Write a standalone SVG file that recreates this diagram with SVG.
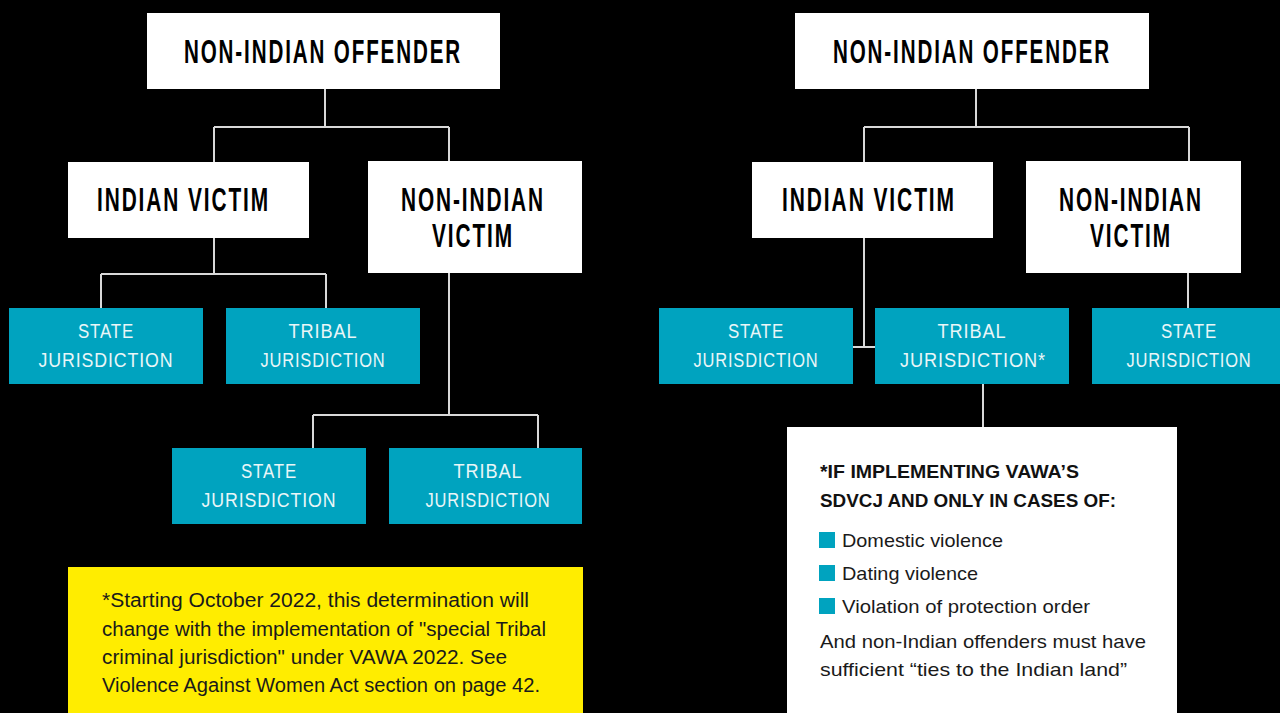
<svg xmlns="http://www.w3.org/2000/svg" width="1280" height="713" viewBox="0 0 1280 713">
<style>
.hdr{fill:#fff}
.hd{font-family:"Liberation Sans",Arial,sans-serif;font-weight:bold;font-size:33px;letter-spacing:3px;fill:#000;text-anchor:middle}
.jb{fill:#00A3BF}
.jt{font-family:"Liberation Sans",Arial,sans-serif;font-size:20px;letter-spacing:1px;fill:#EAF6F8;text-anchor:middle}
.conn{stroke:#D9D9D9;stroke-width:2;fill:none}
.yt{font-family:"Liberation Sans",Arial,sans-serif;font-size:20px;fill:#1A1A1A}
.nt{font-family:"Liberation Sans",Arial,sans-serif;font-size:19px;fill:#1A1A1A}
.nb{font-family:"Liberation Sans",Arial,sans-serif;font-size:18px;font-weight:bold;fill:#111}
</style>
<rect width="1280" height="713" fill="#000"/>
<g id="connectors">
<path class="conn" d="M325 89V127M214 127H449M214 127V162M449 127V161"/>
<path class="conn" d="M214 238V274M101 274H326M101 274V308M326 274V308"/>
<path class="conn" d="M449 273V415M313 415H538M313 415V448M538 415V448"/>
<path class="conn" d="M976 89V127M864 127H1189M864 127V162M1189 127V161"/>
<path class="conn" d="M864 238V347M853 347H875"/>
<path class="conn" d="M1188 273V308"/>
<path class="conn" d="M983 384V427"/>
</g>
<g id="left-offender"><rect class="hdr" x="147" y="13" width="353" height="76"/><text class="hd" x="323" y="63" textLength="278" lengthAdjust="spacingAndGlyphs">NON-INDIAN OFFENDER</text></g>
<g id="left-indian-victim"><rect class="hdr" x="68" y="162" width="241" height="76"/><text class="hd" x="183.5" y="211" textLength="173" lengthAdjust="spacingAndGlyphs">INDIAN VICTIM</text></g>
<g id="left-nonindian-victim"><rect class="hdr" x="368" y="161" width="214" height="112"/><text class="hd" x="473" y="211" textLength="144" lengthAdjust="spacingAndGlyphs">NON-INDIAN</text><text class="hd" x="473" y="247" textLength="82" lengthAdjust="spacingAndGlyphs">VICTIM</text></g>
<g id="left-state-1"><rect class="jb" x="9" y="308" width="194" height="76"/><text class="jt" x="106" y="338" textLength="56" lengthAdjust="spacingAndGlyphs">STATE</text><text class="jt" x="106" y="367" textLength="135" lengthAdjust="spacingAndGlyphs">JURISDICTION</text></g>
<g id="left-tribal-1"><rect class="jb" x="226" y="308" width="194" height="76"/><text class="jt" x="323" y="338" textLength="69" lengthAdjust="spacingAndGlyphs">TRIBAL</text><text class="jt" x="323" y="367" textLength="125" lengthAdjust="spacingAndGlyphs">JURISDICTION</text></g>
<g id="left-state-2"><rect class="jb" x="172" y="448" width="194" height="76"/><text class="jt" x="269" y="478" textLength="56" lengthAdjust="spacingAndGlyphs">STATE</text><text class="jt" x="269" y="507" textLength="135" lengthAdjust="spacingAndGlyphs">JURISDICTION</text></g>
<g id="left-tribal-2"><rect class="jb" x="389" y="448" width="193" height="76"/><text class="jt" x="488" y="478" textLength="69" lengthAdjust="spacingAndGlyphs">TRIBAL</text><text class="jt" x="488" y="507" textLength="125" lengthAdjust="spacingAndGlyphs">JURISDICTION</text></g>
<g id="right-offender"><rect class="hdr" x="795" y="13" width="354" height="76"/><text class="hd" x="972" y="63" textLength="278" lengthAdjust="spacingAndGlyphs">NON-INDIAN OFFENDER</text></g>
<g id="right-indian-victim"><rect class="hdr" x="752" y="162" width="241" height="76"/><text class="hd" x="869" y="211" textLength="174" lengthAdjust="spacingAndGlyphs">INDIAN VICTIM</text></g>
<g id="right-nonindian-victim"><rect class="hdr" x="1026" y="161" width="215" height="112"/><text class="hd" x="1131" y="211" textLength="144" lengthAdjust="spacingAndGlyphs">NON-INDIAN</text><text class="hd" x="1131" y="247" textLength="82" lengthAdjust="spacingAndGlyphs">VICTIM</text></g>
<g id="right-state-1"><rect class="jb" x="659" y="308" width="194" height="76"/><text class="jt" x="756" y="338" textLength="56" lengthAdjust="spacingAndGlyphs">STATE</text><text class="jt" x="756" y="367" textLength="125" lengthAdjust="spacingAndGlyphs">JURISDICTION</text></g>
<g id="right-tribal"><rect class="jb" x="875" y="308" width="194" height="76"/><text class="jt" x="972" y="338" textLength="69" lengthAdjust="spacingAndGlyphs">TRIBAL</text><text class="jt" x="973" y="367" textLength="146" lengthAdjust="spacingAndGlyphs">JURISDICTION*</text></g>
<g id="right-state-2"><rect class="jb" x="1092" y="308" width="188" height="76"/><text class="jt" x="1189" y="338" textLength="56" lengthAdjust="spacingAndGlyphs">STATE</text><text class="jt" x="1189" y="367" textLength="125" lengthAdjust="spacingAndGlyphs">JURISDICTION</text></g>
<g id="yellow-note"><rect x="68" y="567" width="515" height="146" fill="#FFED00"/>
<text class="yt" x="102" y="607" textLength="427" lengthAdjust="spacingAndGlyphs">*Starting October 2022, this determination will</text>
<text class="yt" x="102" y="636" textLength="444" lengthAdjust="spacingAndGlyphs">change with the implementation of "special Tribal</text>
<text class="yt" x="102" y="664" textLength="405" lengthAdjust="spacingAndGlyphs">criminal jurisdiction" under VAWA 2022. See</text>
<text class="yt" x="102" y="692" textLength="438" lengthAdjust="spacingAndGlyphs">Violence Against Women Act section on page 42.</text>
</g>
<g id="sdvcj-note"><rect x="787" y="427" width="390" height="286" fill="#fff"/>
<text class="nb" x="820" y="478" textLength="259" lengthAdjust="spacingAndGlyphs">*IF IMPLEMENTING VAWA’S</text>
<text class="nb" x="820" y="507" textLength="296" lengthAdjust="spacingAndGlyphs">SDVCJ AND ONLY IN CASES OF:</text>
<rect class="jb" x="819" y="532" width="16" height="16"/>
<text class="nt" x="842" y="547" textLength="161" lengthAdjust="spacingAndGlyphs">Domestic violence</text>
<rect class="jb" x="819" y="565" width="16" height="16"/>
<text class="nt" x="842" y="580" textLength="136" lengthAdjust="spacingAndGlyphs">Dating violence</text>
<rect class="jb" x="819" y="598" width="16" height="16"/>
<text class="nt" x="842" y="613" textLength="248" lengthAdjust="spacingAndGlyphs">Violation of protection order</text>
<text class="nt" x="820" y="648" textLength="326" lengthAdjust="spacingAndGlyphs">And non-Indian offenders must have</text>
<text class="nt" x="820" y="676" textLength="307" lengthAdjust="spacingAndGlyphs">sufficient “ties to the Indian land”</text>
</g>
</svg>
